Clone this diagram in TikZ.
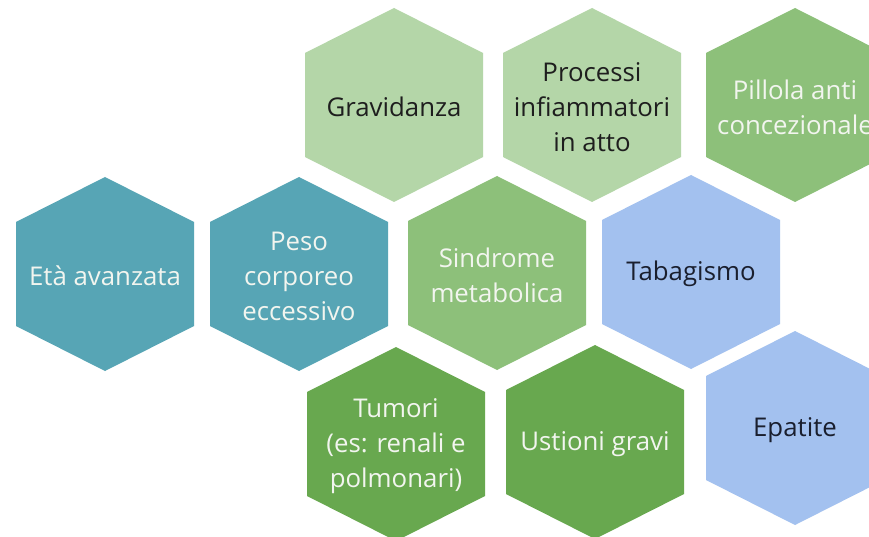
\documentclass[tikz,border=0pt]{standalone}
\usepackage{fontspec}
\setmainfont{Open Sans}
\definecolor{tealc}{HTML}{57A5B5}
\definecolor{lgreen}{HTML}{B4D6A8}
\definecolor{mgreen}{HTML}{8DC07A}
\definecolor{dgreen}{HTML}{68A84F}
\definecolor{bluec}{HTML}{A3C1EF}
\definecolor{lighttext}{HTML}{F2F5EF}
\definecolor{darktext}{HTML}{1E1E1E}
\definecolor{navytext}{HTML}{1A1F2E}
\newcommand{\hexcell}[5]{%
  \fill[#4] (#2,#3) ++(0,-97) -- ++(89,45) -- ++(0,104) -- ++(-89,45) -- ++(-89,-45) -- ++(0,-104) -- cycle;
  \node[hexlabel] (#1) at (#2,#3+2) {#5};
}
\tikzset{
  hexlabel/.style={align=center, inner sep=0pt, font=\fontsize{25.8}{35}\selectfont},
}
\begin{document}
\begin{tikzpicture}[x=1pt,y=-1pt]
\useasboundingbox (0,0) rectangle (869,537);
\fill[white] (0,0) rectangle (869,537);
\clip (0,0) rectangle (869,537);
% top row
\hexcell{grav}{394}{105}{lgreen}{\color{darktext}Gravidanza}
\hexcell{proc}{592}{105}{lgreen}{\color{darktext}Processi\\\color{darktext}infiammatori\\\color{darktext}in atto}
\hexcell{pill}{795}{105}{mgreen}{\color{lighttext}Pillola anti\\\color{lighttext}concezionale}
% middle row
\hexcell{eta}{105}{274}{tealc}{\color{lighttext}Età avanzata}
\hexcell{peso}{299}{274}{tealc}{\color{lighttext}Peso\\\color{lighttext}corporeo\\\color{lighttext}eccessivo}
\hexcell{sind}{497}{273}{mgreen}{\color{lighttext}Sindrome\\\color{lighttext}metabolica}
\hexcell{taba}{691}{272}{bluec}{\color{navytext}Tabagismo}
% bottom row
\hexcell{tumo}{396}{444}{dgreen}{\color{lighttext}Tumori\\\color{lighttext}(es: renali e\\\color{lighttext}polmonari)}
\hexcell{usti}{595}{442}{dgreen}{\color{lighttext}Ustioni gravi}
\hexcell{epat}{795}{428}{bluec}{\color{navytext}Epatite}
\end{tikzpicture}
\end{document}
